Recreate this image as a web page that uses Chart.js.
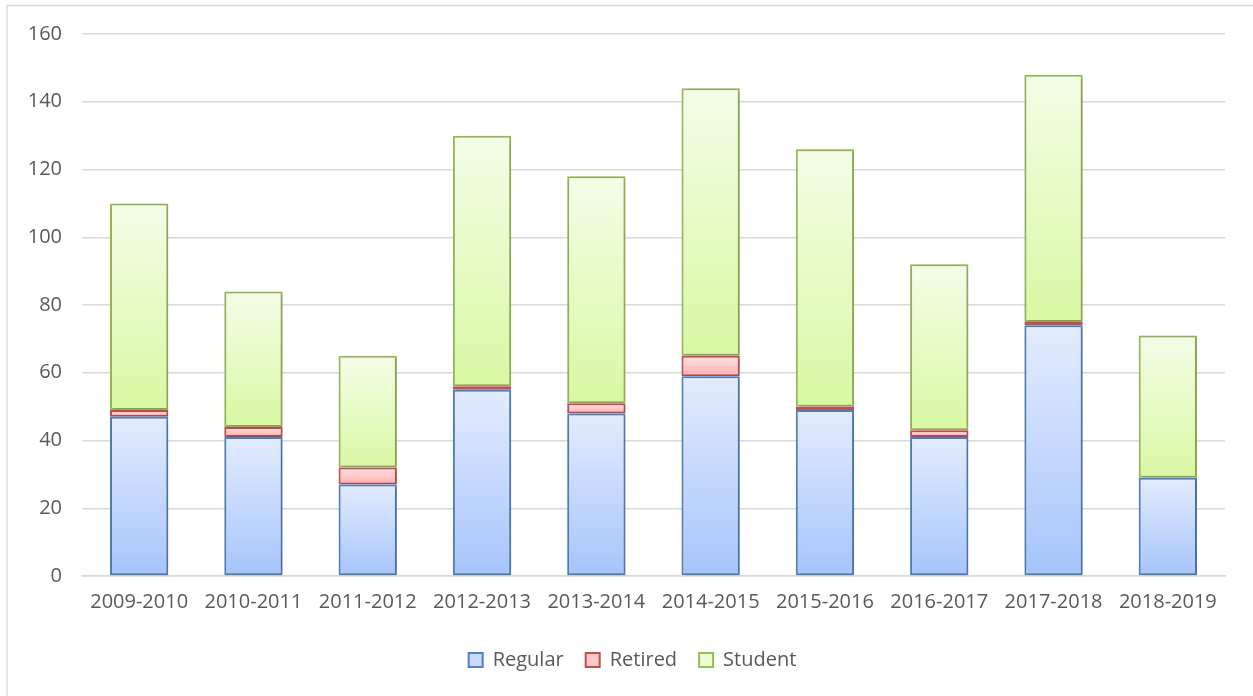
<!DOCTYPE html>
<html>
<head>
<meta charset="utf-8">
<script src="https://cdn.jsdelivr.net/npm/chart.js@4/dist/chart.umd.min.js"></script>
<style>
html,body{margin:0;padding:0;background:#fff;}
#wrap{position:relative;width:1253px;height:696px;}
</style>
</head>
<body>
<div id="wrap"><canvas id="c" width="1253" height="696"></canvas></div>
<script>
const categories = ["2009-2010","2010-2011","2011-2012","2012-2013","2013-2014","2014-2015","2015-2016","2016-2017","2017-2018","2018-2019"];
const regular = [47, 41, 27, 55, 48, 59, 49, 41, 74, 29];
const retired = [2, 3, 5, 1, 3, 6, 1, 2, 1, 0];
const student = [61, 40, 33, 74, 67, 79, 76, 49, 73, 42];
const yTicks = [0, 20, 40, 60, 80, 100, 120, 140, 160];

const seriesList = [regular, retired, student];
const FONT = "'Open Sans', sans-serif";

function gradFill(top, bottom, dsIndex) {
  return function(ctx) {
    const chart = ctx.chart;
    const y = chart.scales && chart.scales.y;
    if (!chart.chartArea || !y || ctx.type !== 'data') return bottom;
    let start = 0;
    for (let k = 0; k < dsIndex; k++) start += seriesList[k][ctx.dataIndex] || 0;
    const end = start + (seriesList[dsIndex][ctx.dataIndex] || 0);
    const p0 = y.getPixelForValue(end), p1 = y.getPixelForValue(start);
    if (!isFinite(p0) || !isFinite(p1) || p0 === p1) return bottom;
    const g = chart.ctx.createLinearGradient(0, p0, 0, p1);
    g.addColorStop(0, top);
    g.addColorStop(1, bottom);
    return g;
  };
}

const frame = {
  id: 'frame',
  beforeDraw(chart) {
    const c = chart.ctx;
    c.save();
    c.strokeStyle = '#d9d9d9';
    c.lineWidth = 1.5;
    c.beginPath();
    c.moveTo(7, 700); c.lineTo(7, 5.5); c.lineTo(1260, 5.5);
    c.stroke();
    c.restore();
  }
};
const shadow = {
  id: 'shadow',
  beforeDatasetsDraw(chart) {
    const c = chart.ctx;
    c.save();
    c.shadowColor = 'rgba(0,0,0,0.22)';
    c.shadowBlur = 4;
    c.shadowOffsetX = 1;
    c.shadowOffsetY = 1;
  },
  afterDatasetsDraw(chart) { chart.ctx.restore(); }
};
const legendShift = {
  id: 'legendShift',
  afterLayout(chart) {
    if (chart.legend) { chart.legend.left += 20; chart.legend.right += 20; }
  }
};

new Chart(document.getElementById('c'), {
  type: 'bar',
  data: {
    labels: categories,
    datasets: [
      { label: 'Regular', data: regular, backgroundColor: gradFill('#e3ecfd', '#a6c4fb', 0), borderColor: '#4f81bd',
        legendColor: '#c9dafc' },
      { label: 'Retired', data: retired, backgroundColor: gradFill('#ffe1e1', '#ffb0b0', 1), borderColor: '#c0504d',
        legendColor: '#ffc8c8' },
      { label: 'Student', data: student, backgroundColor: gradFill('#f4fde8', '#d8f8a2', 2), borderColor: '#9bbb59',
        legendColor: '#ebfcd0' }
    ]
  },
  options: {
    responsive: false,
    animation: false,
    devicePixelRatio: 1,
    layout: { padding: { top: 34, right: 28, left: 0, bottom: 16 } },
    datasets: {
      bar: {
        barPercentage: 0.51,
        categoryPercentage: 1.0,
        borderSkipped: false,
        borderWidth: (ctx) => (ctx.raw === 0 ? 0 : 2)
      }
    },
    plugins: {
      legend: {
        position: 'bottom',
        labels: {
          font: { family: FONT, size: 20 },
          color: '#595959',
          boxWidth: 14,
          boxHeight: 14,
          padding: 22,
          generateLabels(chart) {
            return chart.data.datasets.map((ds, i) => ({
              text: ds.label,
              fillStyle: ds.legendColor,
              strokeStyle: ds.borderColor,
              lineWidth: 2,
              datasetIndex: i,
              fontColor: '#595959'
            }));
          }
        }
      },
      tooltip: { enabled: false },
      title: { display: false }
    },
    scales: {
      x: {
        stacked: true,
        grid: { display: false, drawTicks: false },
        border: { display: true, color: '#d9d9d9', width: 1.5 },
        ticks: { font: { family: FONT, size: 20 }, color: '#595959', padding: 14, maxRotation: 0, autoSkip: false }
      },
      y: {
        stacked: true,
        min: 0, max: 160,
        afterBuildTicks(scale) { scale.ticks = yTicks.map(v => ({ value: v })); },
        afterFit(scale) { scale.width = 82; },
        grid: { color: '#d9d9d9', lineWidth: 1.5, drawTicks: false },
        border: { display: false },
        ticks: { font: { family: FONT, size: 20 }, color: '#595959', padding: 20 }
      }
    }
  },
  plugins: [frame, shadow, legendShift]
});
</script>
</body>
</html>
